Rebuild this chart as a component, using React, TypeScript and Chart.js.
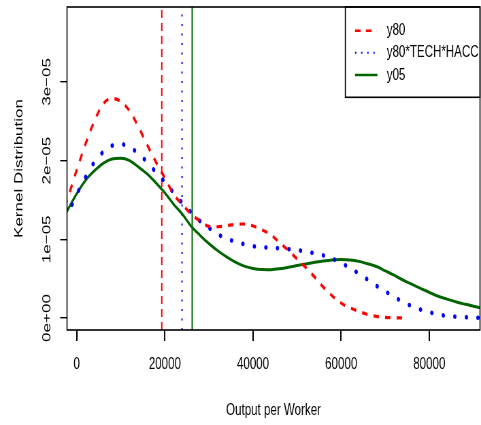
import React, { useEffect, useRef } from 'react';
import { Chart, registerables } from 'chart.js';

Chart.register(...registerables);

// ---- data (densities in units of 1e-5) ----
const UNIT = 1e-5;
const xValues = [
  -4000, -2000, 0, 2000, 4000, 6000, 8000, 10000, 12000, 14000, 16000, 18000, 20000,
  22000, 24000, 26000, 28000, 30000, 32000, 34000, 36000, 38000, 40000, 42000, 44000,
  46000, 48000, 50000, 52000, 54000, 56000, 58000, 60000, 62000, 64000, 66000, 68000,
  70000, 72000, 74000, 76000, 78000, 80000, 82000, 84000, 86000, 88000, 90000, 92000,
];
const y80 = [
  1.22, 1.53, 1.88, 2.21, 2.5, 2.72, 2.79, 2.75, 2.63, 2.43, 2.2, 1.98, 1.78,
  1.57, 1.44, 1.32, 1.23, 1.165, 1.16, 1.175, 1.19, 1.195, 1.17, 1.12, 1.06,
  0.96, 0.86, 0.75, 0.64, 0.52, 0.39, 0.28, 0.19, 0.13, 0.085, 0.045, 0.02,
  0.008, 0.003, 0.001,
];
const y80TechHacc = [
  1.08, 1.32, 1.57, 1.79, 1.98, 2.11, 2.19, 2.21, 2.17, 2.09, 1.98, 1.85, 1.73,
  1.59, 1.46, 1.34, 1.23, 1.146, 1.065, 1.01, 0.97, 0.94, 0.913, 0.9, 0.892,
  0.885, 0.875, 0.863, 0.845, 0.822, 0.795, 0.756, 0.7, 0.636, 0.565, 0.488, 0.41,
  0.34, 0.27, 0.205, 0.152, 0.108, 0.074, 0.046, 0.027, 0.017, 0.01, 0.006, 0.004,
];
const y05 = [
  1.18, 1.38, 1.58, 1.75, 1.87, 1.966, 2.02, 2.03, 2.0, 1.92, 1.83, 1.716, 1.59,
  1.445, 1.317, 1.165, 1.05, 0.945, 0.855, 0.777, 0.71, 0.66, 0.63, 0.617, 0.615,
  0.625, 0.645, 0.667, 0.687, 0.71, 0.726, 0.738, 0.744, 0.738, 0.72, 0.69, 0.655,
  0.6, 0.545, 0.483, 0.43, 0.377, 0.325, 0.277, 0.24, 0.206, 0.177, 0.15, 0.128,
];
// means drawn as vertical lines
const meanY80 = [19300];
const meanY80TechHacc = [23900];
const meanY05 = [26200];

const seriesLabels = ['y80', 'y80*TECH*HACC', 'y05'];
const xTicks = [0, 20000, 40000, 60000, 80000];
const xTickLabels = ['0', '20000', '40000', '60000', '80000'];
const yTicks = [0, 1, 2, 3];
const yTickLabels = ['0e+00', '1e\u221205', '2e\u221205', '3e\u221205'];
const xMin = -2200;
const xMax = 91500;
const yMin = -0.152;
const yMax = 3.952;

// ---- layout (drawn wide, then squeezed horizontally like the reference) ----
const CANVAS_W = 707;
const CANVAS_H = 425;
const SQUEEZE = 481 / CANVAS_W;
const FONT = "'Liberation Sans', Arial, Helvetica, sans-serif";

export default function App() {
  const ref = useRef<HTMLCanvasElement | null>(null);

  useEffect(() => {
    document.body.style.margin = '0';
    document.body.style.overflow = 'hidden';
    Chart.defaults.font.family = FONT;
    const canvas = ref.current;
    if (!canvas) return;

    const toPts = (ys: number[]) => ys.map((v, i) => ({ x: xValues[i], y: v * UNIT }));
    const vline = (x: number) => [
      { x, y: yMin * UNIT },
      { x, y: yMax * UNIT },
    ];

    const boxPlugin = {
      id: 'rbox',
      afterDraw(chart: any) {
        const { ctx, chartArea: a } = chart;
        ctx.save();
        ctx.strokeStyle = '#000';
        ctx.lineWidth = 1.6;
        ctx.setLineDash([]);
        ctx.strokeRect(a.left, a.top, a.right - a.left, a.bottom - a.top);

        // legend (R style, top right)
        const lx = 507.6;
        const ly = a.top;
        const lh = 90.3;
        ctx.lineWidth = 1.6;
        ctx.strokeRect(lx, ly, a.right - lx, lh);
        const rows = [30.7, 52.7, 75];
        const x1 = 521.8;
        const x2 = 553.7;
        // red dashed
        ctx.strokeStyle = '#ff0000';
        ctx.lineWidth = 2.6;
        ctx.lineCap = 'butt';
        ctx.setLineDash([8.3, 7.6]);
        ctx.beginPath();
        ctx.moveTo(x1, rows[0]);
        ctx.lineTo(x2, rows[0]);
        ctx.stroke();
        // blue dotted
        ctx.strokeStyle = '#0000ff';
        ctx.lineWidth = 2;
        ctx.setLineDash([2, 7]);
        ctx.beginPath();
        ctx.moveTo(x1, rows[1]);
        ctx.lineTo(x2, rows[1]);
        ctx.stroke();
        // green solid
        ctx.strokeStyle = '#006400';
        ctx.lineWidth = 2.6;
        ctx.setLineDash([]);
        ctx.beginPath();
        ctx.moveTo(x1, rows[2]);
        ctx.lineTo(x2 + 1, rows[2]);
        ctx.stroke();

        ctx.fillStyle = '#000';
        ctx.font = `17px ${FONT}`;
        ctx.textAlign = 'left';
        ctx.textBaseline = 'middle';
        seriesLabels.forEach((t, i) => ctx.fillText(t, 568.4, rows[i]));
        ctx.restore();
      },
    };

    const common = { pointRadius: 0, fill: false, cubicInterpolationMode: 'monotone' as const };

    const chart = new Chart(canvas, {
      type: 'line',
      data: {
        datasets: [
          { label: seriesLabels[0], data: toPts(y80), borderColor: '#ff0000', borderWidth: 3.2, borderDash: [8, 9], ...common },
          {
            label: seriesLabels[1], data: toPts(y80TechHacc), borderColor: '#0000ff', borderWidth: 4.5,
            borderDash: [0.5, 16.5], borderCapStyle: 'round', ...common,
          },
          { label: seriesLabels[2], data: toPts(y05), borderColor: '#006400', borderWidth: 3, ...common },
          { label: 'mean y80', data: vline(meanY80[0]), borderColor: '#ff0000', borderWidth: 2, borderDash: [8, 5], pointRadius: 0 },
          { label: 'mean tech', data: vline(meanY80TechHacc[0]), borderColor: '#0000ff', borderWidth: 2, borderDash: [2, 7.5], pointRadius: 0 },
          { label: 'mean y05', data: vline(meanY05[0]), borderColor: '#006400', borderWidth: 2, pointRadius: 0 },
        ],
      },
      options: {
        responsive: false,
        animation: false,
        devicePixelRatio: 1,
        events: [],
        layout: { padding: { top: 7, right: 1.47, left: 0, bottom: 0 } },
        plugins: { legend: { display: false }, tooltip: { enabled: false } },
        scales: {
          x: {
            type: 'linear',
            min: xMin,
            max: xMax,
            afterBuildTicks: (s: any) => {
              s.ticks = xTicks.map((v) => ({ value: v }));
            },
            afterFit: (s: any) => {
              s.height = 95;
            },
            grid: { display: true, drawOnChartArea: false, drawTicks: true, tickLength: 11, color: '#000', lineWidth: 2 },
            border: { display: false },
            ticks: {
              color: '#000',
              font: { size: 17 },
              padding: 13.5,
              maxRotation: 0,
              minRotation: 0,
              autoSkip: false,
              callback: (_v: any, i: number) => xTickLabels[i],
            },
            title: {
              display: true,
              text: 'Output per Worker',
              color: '#000',
              font: { size: 17 },
              padding: { top: 0, bottom: 4.8 },
            },
          },
          y: {
            type: 'linear',
            min: yMin * UNIT,
            max: yMax * UNIT,
            afterBuildTicks: (s: any) => {
              s.ticks = yTicks.map((v) => ({ value: v * UNIT }));
            },
            afterFit: (s: any) => {
              s.width = 98.48;
            },
            grid: { display: true, drawOnChartArea: false, drawTicks: true, tickLength: 10, color: '#000', lineWidth: 1.4 },
            border: { display: false },
            ticks: {
              color: '#000',
              font: { size: 17 },
              minRotation: 90,
              maxRotation: 90,
              crossAlign: 'center',
              padding: -4.3,
              autoSkip: false,
              callback: (_v: any, i: number) => yTickLabels[i],
            },
            title: {
              display: true,
              text: 'Kernel Distribution',
              color: '#000',
              font: { size: 17 },
              padding: { top: 17.8, bottom: 0 },
            },
          },
        },
      } as any,
      plugins: [boxPlugin],
    });

    return () => chart.destroy();
  }, []);

  return (
    <div style={{ width: 481, height: CANVAS_H, overflow: 'hidden', position: 'relative', background: '#fff' }}>
      <div
        style={{
          position: 'absolute',
          left: 0,
          top: 0,
          width: CANVAS_W,
          height: CANVAS_H,
          transform: `scaleX(${SQUEEZE})`,
          transformOrigin: '0 0',
        }}
      >
        <canvas
          ref={ref}
          width={CANVAS_W}
          height={CANVAS_H}
          style={{ width: `${CANVAS_W}px`, height: `${CANVAS_H}px`, display: 'block' }}
        />
      </div>
    </div>
  );
}
